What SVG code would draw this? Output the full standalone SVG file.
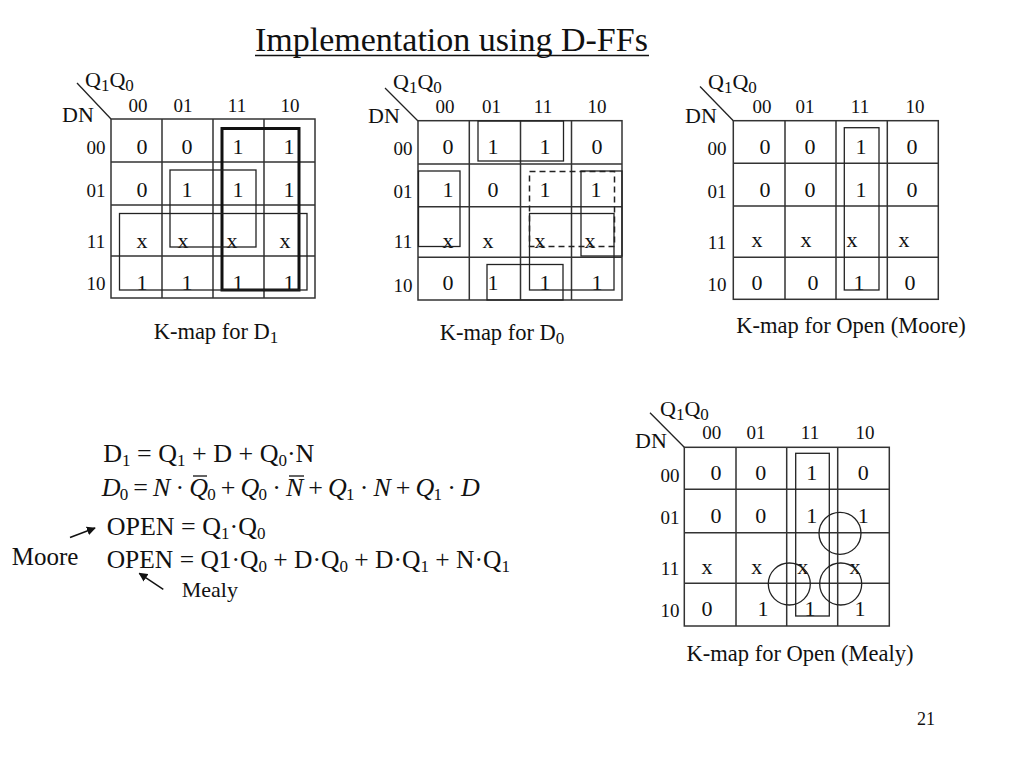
<svg xmlns="http://www.w3.org/2000/svg" width="1024" height="768" viewBox="0 0 1024 768">
<defs>
<style>
text{font-family:"Liberation Serif","Times New Roman",serif;fill:#111}
.grid{fill:none;stroke:#333;stroke-width:1.5}
.loop{fill:none;stroke:#222;stroke-width:1.3}
.thick{fill:none;stroke:#111;stroke-width:3}
.dash{fill:none;stroke:#222;stroke-width:1.5;stroke-dasharray:6,4}
.v{font-size:22px;text-anchor:middle}
.h{font-size:19px;text-anchor:middle}
.r{font-size:19px;text-anchor:middle}
.lbl{font-size:22px}
.cap{font-size:22.5px;text-anchor:middle}
.eq{font-size:26px}
.sub{font-size:17px}
.diag{stroke:#222;stroke-width:1.3}
.bar{stroke:#111;stroke-width:1.3}
.arr{stroke:#111;stroke-width:1.5;fill:none}
</style>
<marker id="ah" viewBox="0 0 10 10" refX="9" refY="5" markerWidth="9" markerHeight="9" markerUnits="userSpaceOnUse" orient="auto">
<path d="M0,0 L10,5 L0,10 z" fill="#111"/>
</marker>
</defs>
<rect width="1024" height="768" fill="#fff"/>

<g id="title">
<text x="255" y="51" style="font-size:34px">Implementation using D-FFs</text>
<line x1="255" y1="55.5" x2="649" y2="55.5" stroke="#111" stroke-width="1.5"/>
</g>

<!-- K-map D1 -->
<g id="kmap-d1">
<line class="diag" x1="77" y1="83" x2="111" y2="119"/>
<text class="lbl" x="85" y="87">Q<tspan class="sub" dy="4">1</tspan><tspan dy="-4">Q</tspan><tspan class="sub" dy="4">0</tspan></text>
<text class="lbl" x="62" y="122">DN</text>
<text class="h" x="138" y="112">00</text><text class="h" x="183" y="112">01</text><text class="h" x="237" y="112">11</text><text class="h" x="290" y="112">10</text>
<text class="r" x="96" y="154">00</text><text class="r" x="96" y="197">01</text><text class="r" x="96" y="248">11</text><text class="r" x="96" y="290">10</text>
<rect class="grid" x="111" y="119" width="204" height="179"/>
<path class="grid" d="M162,119V298M213,119V298M264,119V298M111,162H315M111,205H315M111,256H315"/>
<text class="v" x="142" y="154">0</text><text class="v" x="187" y="154">0</text><text class="v" x="238" y="154">1</text><text class="v" x="289" y="154">1</text>
<text class="v" x="142" y="197">0</text><text class="v" x="187" y="197">1</text><text class="v" x="238" y="197">1</text><text class="v" x="289" y="197">1</text>
<text class="v" x="142" y="248">x</text><text class="v" x="183" y="248">x</text><text class="v" x="232" y="248">x</text><text class="v" x="285" y="248">x</text>
<text class="v" x="142" y="290">1</text><text class="v" x="187" y="290">1</text><text class="v" x="238" y="290">1</text><text class="v" x="289" y="290">1</text>
<rect class="thick" x="222" y="128.5" width="77" height="161.5"/>
<rect class="loop" x="170" y="170" width="86" height="77"/>
<rect class="loop" x="119.5" y="213.5" width="187.5" height="76.5"/>
<text class="cap" x="216" y="339">K-map for D<tspan class="sub" dy="4">1</tspan></text>
</g>

<!-- K-map D0 -->
<g id="kmap-d0">
<line class="diag" x1="385" y1="88" x2="418" y2="121"/>
<text class="lbl" x="393" y="89">Q<tspan class="sub" dy="4">1</tspan><tspan dy="-4">Q</tspan><tspan class="sub" dy="4">0</tspan></text>
<text class="lbl" x="368" y="123">DN</text>
<text class="h" x="445" y="113">00</text><text class="h" x="491.5" y="113">01</text><text class="h" x="543" y="113">11</text><text class="h" x="597" y="113">10</text>
<text class="r" x="403" y="155">00</text><text class="r" x="403" y="198">01</text><text class="r" x="403" y="248">11</text><text class="r" x="403" y="292">10</text>
<rect class="grid" x="418" y="120.7" width="204" height="179.3"/>
<path class="grid" d="M469.3,120.7V300M520.5,120.7V300M571.5,120.7V300M418,164H622M418,206.7H622M418,257.3H622"/>
<text class="v" x="448" y="153.5">0</text><text class="v" x="493" y="153.5">1</text><text class="v" x="545" y="153.5">1</text><text class="v" x="597" y="153.5">0</text>
<text class="v" x="448" y="197">1</text><text class="v" x="493" y="197">0</text><text class="v" x="545" y="197">1</text><text class="v" x="596" y="197">1</text>
<text class="v" x="448" y="247.5">x</text><text class="v" x="488" y="247.5">x</text><text class="v" x="540" y="247.5">x</text><text class="v" x="590" y="247.5">x</text>
<text class="v" x="448" y="290">0</text><text class="v" x="493" y="290">1</text><text class="v" x="545" y="290">1</text><text class="v" x="597" y="290">1</text>
<rect class="loop" x="478" y="121" width="85.5" height="40"/>
<rect class="loop" x="418.5" y="171" width="41.5" height="75.5"/>
<rect class="loop" x="581" y="171" width="41" height="85"/>
<rect class="dash" x="529.5" y="171.5" width="85" height="75"/>
<rect class="loop" x="529.5" y="213.5" width="84.5" height="76.5"/>
<rect class="loop" x="487" y="264.5" width="76" height="35.5"/>
<text class="cap" x="502" y="340">K-map for D<tspan class="sub" dy="4">0</tspan></text>
</g>

<!-- K-map Open Moore -->
<g id="kmap-moore">
<line class="diag" x1="700" y1="86.5" x2="733.3" y2="120.7"/>
<text class="lbl" x="708" y="89">Q<tspan class="sub" dy="4">1</tspan><tspan dy="-4">Q</tspan><tspan class="sub" dy="4">0</tspan></text>
<text class="lbl" x="685" y="123">DN</text>
<text class="h" x="762" y="113">00</text><text class="h" x="805" y="113">01</text><text class="h" x="860" y="113">11</text><text class="h" x="915" y="113">10</text>
<text class="r" x="717" y="154.5">00</text><text class="r" x="717" y="197.5">01</text><text class="r" x="717" y="248.5">11</text><text class="r" x="717" y="291">10</text>
<rect class="grid" x="733.3" y="120.7" width="205" height="178.6"/>
<path class="grid" d="M785,120.7V299.3M836,120.7V299.3M887.3,120.7V299.3M733.3,163.3H938.3M733.3,206H938.3M733.3,257.3H938.3"/>
<text class="v" x="765" y="154">0</text><text class="v" x="810" y="154">0</text><text class="v" x="861" y="154">1</text><text class="v" x="912" y="154">0</text>
<text class="v" x="765" y="196.7">0</text><text class="v" x="810" y="196.7">0</text><text class="v" x="861" y="196.7">1</text><text class="v" x="912" y="196.7">0</text>
<text class="v" x="757" y="247.3">x</text><text class="v" x="806" y="247.3">x</text><text class="v" x="852" y="247.3">x</text><text class="v" x="904" y="247.3">x</text>
<text class="v" x="757" y="290">0</text><text class="v" x="813" y="290">0</text><text class="v" x="859" y="290">1</text><text class="v" x="910" y="290">0</text>
<rect class="loop" x="844.3" y="127.7" width="34.7" height="162.3"/>
<text class="cap" x="851" y="333">K-map for Open (Moore)</text>
</g>

<!-- K-map Open Mealy -->
<g id="kmap-mealy">
<line class="diag" x1="650" y1="412.7" x2="684.3" y2="447.3"/>
<text class="lbl" x="660" y="415.5">Q<tspan class="sub" dy="4">1</tspan><tspan dy="-4">Q</tspan><tspan class="sub" dy="4">0</tspan></text>
<text class="lbl" x="635" y="447.5">DN</text>
<text class="h" x="711.7" y="438.5">00</text><text class="h" x="756" y="438.5">01</text><text class="h" x="810" y="438.5">11</text><text class="h" x="865" y="438.5">10</text>
<text class="r" x="670" y="482">00</text><text class="r" x="670" y="523.5">01</text><text class="r" x="670" y="575">11</text><text class="r" x="670" y="617">10</text>
<rect class="grid" x="684.3" y="447.3" width="205" height="178.7"/>
<path class="grid" d="M736,447.3V626M786.7,447.3V626M837.7,447.3V626M684.3,489.3H889.3M684.3,532.7H889.3M684.3,583.3H889.3"/>
<text class="v" x="716" y="480">0</text><text class="v" x="760.7" y="480">0</text><text class="v" x="811.7" y="480">1</text><text class="v" x="863.3" y="480">0</text>
<text class="v" x="716" y="522.7">0</text><text class="v" x="760.7" y="522.7">0</text><text class="v" x="811.7" y="522.7">1</text><text class="v" x="863.3" y="522.7">1</text>
<text class="v" x="707" y="574">x</text><text class="v" x="756.7" y="574">x</text><text class="v" x="802.7" y="574">x</text><text class="v" x="855" y="574">x</text>
<text class="v" x="707" y="616">0</text><text class="v" x="763" y="616">1</text><text class="v" x="810" y="616">1</text><text class="v" x="860" y="616">1</text>
<rect class="loop" x="795.7" y="453.3" width="33.6" height="162.7"/>
<circle class="loop" cx="840" cy="533.3" r="21"/>
<circle class="loop" cx="789.3" cy="584" r="21"/>
<circle class="loop" cx="840.7" cy="584" r="21"/>
<text class="cap" x="800" y="661">K-map for Open (Mealy)</text>
</g>

<!-- Equations -->
<g id="equations">
<text class="eq" x="103.3" y="462">D<tspan class="sub" dy="4">1</tspan><tspan dy="-4"> = Q</tspan><tspan class="sub" dy="4">1</tspan><tspan dy="-4"> + D + Q</tspan><tspan class="sub" dy="4">0</tspan><tspan dy="-4">·N</tspan></text>
<text class="eq" x="101.7" y="496" textLength="378" lengthAdjust="spacing"><tspan font-style="italic">D</tspan><tspan class="sub" dy="4">0</tspan><tspan dy="-4"> = </tspan><tspan font-style="italic">N</tspan><tspan> · </tspan><tspan font-style="italic">Q</tspan><tspan class="sub" dy="4">0</tspan><tspan dy="-4"> + </tspan><tspan font-style="italic">Q</tspan><tspan class="sub" dy="4">0</tspan><tspan dy="-4"> · </tspan><tspan font-style="italic">N</tspan><tspan> + </tspan><tspan font-style="italic">Q</tspan><tspan class="sub" dy="4">1</tspan><tspan dy="-4"> · </tspan><tspan font-style="italic">N</tspan><tspan> + </tspan><tspan font-style="italic">Q</tspan><tspan class="sub" dy="4">1</tspan><tspan dy="-4"> · </tspan><tspan font-style="italic">D</tspan></text>
<line class="bar" x1="193" y1="476" x2="207" y2="476"/>
<line class="bar" x1="289" y1="476" x2="304" y2="476"/>
<text class="eq" x="106.7" y="535">OPEN = Q<tspan class="sub" dy="4">1</tspan><tspan dy="-4">·Q</tspan><tspan class="sub" dy="4">0</tspan></text>
<text class="eq" x="106.7" y="568" style="font-size:25.5px">OPEN = Q1·Q<tspan class="sub" dy="4">0</tspan><tspan dy="-4"> + D·Q</tspan><tspan class="sub" dy="4">0</tspan><tspan dy="-4"> + D·Q</tspan><tspan class="sub" dy="4">1</tspan><tspan dy="-4"> + N·Q</tspan><tspan class="sub" dy="4">1</tspan></text>
<text x="11.7" y="565" style="font-size:25px">Moore</text>
<text x="181.7" y="597" style="font-size:22px">Mealy</text>
</g>

<g id="connectors">
<line class="arr" x1="70" y1="537.5" x2="95" y2="528" marker-end="url(#ah)"/>
<line class="arr" x1="163.3" y1="589.3" x2="139.3" y2="573.3" marker-end="url(#ah)"/>
</g>

<text x="926" y="725" style="font-size:18px;text-anchor:middle">21</text>
</svg>
